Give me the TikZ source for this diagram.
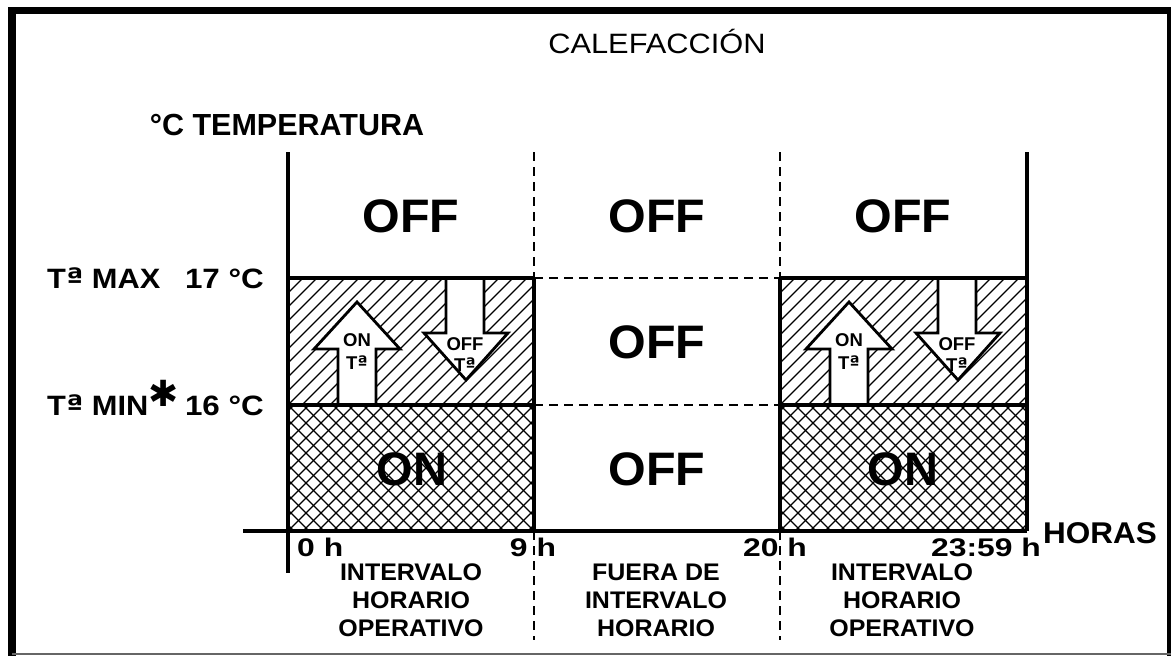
\documentclass[tikz,border=0pt]{standalone}
\usepackage{fontspec}
\setmainfont{Liberation Sans}
\newfontfamily\djv{DejaVu Sans}
\newcommand{\hs}[2]{\scalebox{#1}[1]{#2}}
\newcommand{\orda}{{\djv ª}}
\begin{document}
\begin{tikzpicture}[x=1pt,y=-1pt,
  frame/.style={line width=7.5pt},
  axis/.style={line width=3.2pt},
  dsh/.style={line width=2.2pt, dash pattern=on 9pt off 6pt},
  hat/.style={line width=1.3pt},
  arr/.style={line width=2.8pt, fill=white, line join=miter},
  ttl/.style={font=\fontsize{28}{30}\selectfont, inner sep=0, anchor=base},
  hd/.style={font=\fontsize{30.5}{32}\selectfont\bfseries, inner sep=0, anchor=base},
  lv/.style={font=\fontsize{28}{30}\selectfont\bfseries, inner sep=0},
  big/.style={font=\fontsize{47}{48}\selectfont\bfseries, inner sep=0, anchor=base},
  sm/.style={font=\fontsize{18.5}{20}\selectfont\bfseries, inner sep=0, anchor=base},
  tk/.style={font=\fontsize{25.5}{27}\selectfont\bfseries, inner sep=0, anchor=base},
  iv/.style={font=\fontsize{24}{26}\selectfont\bfseries, inner sep=0, anchor=base},
]
\useasboundingbox (0,0) rectangle (1171,656);
\fill[white] (0,0) rectangle (1171,656);

% outer frame
\draw[frame] (12,656) -- (12,10.5) -- (1171,10.5) -- (1171,656);
\draw[line width=1.5pt, black!60] (12,654) -- (1171,654);

% hatching of the two operating intervals
\foreach \ox in {0,492} {
  \begin{scope}[xshift=\ox pt]
    \begin{scope}
      \clip (288,278) rectangle (534,405);
      \foreach \i in {-10,...,18} \draw[hat] (288+\i*14,405) -- ++(127,-127);
    \end{scope}
    \begin{scope}
      \clip (288,405) rectangle (534,531);
      \foreach \i in {-9,...,18} {
        \draw[hat] (288+\i*15,531) -- ++(126,-126);
        \draw[hat] (288+\i*15,405) -- ++(126,126);
      }
    \end{scope}
    % up arrow (ON)
    \draw[arr] (338,405) -- (338,349) -- (314,349) -- (357,302) -- (400,349) -- (376,349) -- (376,405);
    % down arrow (OFF)
    \draw[arr] (446,278) -- (446,333) -- (424,333) -- (466,380) -- (508,333) -- (484,333) -- (484,278);
  \end{scope}
}

% axes and solid boundaries
\draw[axis] (288,152) -- (288,573);
\draw[axis] (243,531) -- (1027,531);
\draw[axis] (1027,152) -- (1027,531);
\draw[axis] (288,278) -- (534,278);
\draw[axis] (288,405) -- (534,405);
\draw[axis] (534,278) -- (534,531);
\draw[axis] (780,278) -- (1027,278);
\draw[axis] (780,405) -- (1027,405);
\draw[axis] (780,278) -- (780,531);

% dashed lines
\draw[dsh] (534,152) -- (534,278);
\draw[dsh] (780,152) -- (780,278);
\draw[dsh] (534,278) -- (780,278);
\draw[dsh] (534,405) -- (780,405);
\draw[dsh] (534,531) -- (534,640);
\draw[dsh] (780,531) -- (780,640);

% texts
\node[ttl] (title) at (657,53) {\hs{1.1}{CALEFACCIÓN}};
\node[hd] (ylab) at (287,135) {°C TEMPERATURA};

\node[lv, anchor=base west] (tmax) at (47,288) {\hs{1.1}{T\orda{} MAX}};
\node[lv, anchor=base east] (v17) at (264,288) {\hs{1.12}{17 °C}};
\node[lv, anchor=base west] (tmin) at (47,415) {\hs{1.1}{T\orda{} MIN}};
\node[font=\djv\fontsize{36}{36}\selectfont, inner sep=0] (star) at (164,393) {✱};
\node[lv, anchor=base east] (v16) at (264,415) {\hs{1.12}{16 °C}};

\node[big] (off1) at (411,232) {\hs{1.03}{OFF}};
\node[big] (off2) at (657,232) {\hs{1.03}{OFF}};
\node[big] (off3) at (903,232) {\hs{1.03}{OFF}};
\node[big] (off4) at (657,358) {\hs{1.03}{OFF}};
\node[big] (off5) at (657,485) {\hs{1.03}{OFF}};
\node[big] (on1) at (412,485) {ON};
\node[big] (on2) at (903,485) {ON};

\node[sm] (aon1) at (357,346) {ON};
\node[sm] (aon1t) at (357,369) {T\orda};
\node[sm] (aoff1) at (465,350) {OFF};
\node[sm] (aoff1t) at (465,371) {T\orda};
\node[sm] (aon2) at (849,346) {ON};
\node[sm] (aon2t) at (849,369) {T\orda};
\node[sm] (aoff2) at (957,350) {OFF};
\node[sm] (aoff2t) at (957,371) {T\orda};

\node[tk, anchor=base west] (t0) at (297,556) {\hs{1.25}{0 h}};
\node[tk] (t9) at (533,556) {\hs{1.25}{9 h}};
\node[tk] (t20) at (775,556) {\hs{1.25}{20 h}};
\node[tk] (t2359) at (986,556) {\hs{1.25}{23:59 h}};
\node[font=\fontsize{30}{32}\selectfont\bfseries, inner sep=0, anchor=base west] (horas) at (1043,543) {\hs{1.05}{HORAS}};

\node[iv] (l1a) at (411,580) {\hs{1.04}{INTERVALO}};
\node[iv] (l1b) at (411,608) {\hs{1.04}{HORARIO}};
\node[iv] (l1c) at (411,636) {\hs{1.04}{OPERATIVO}};
\node[iv] (l2a) at (656,580) {\hs{1.04}{FUERA DE}};
\node[iv] (l2b) at (656,608) {\hs{1.04}{INTERVALO}};
\node[iv] (l2c) at (656,636) {\hs{1.04}{HORARIO}};
\node[iv] (l3a) at (902,580) {\hs{1.04}{INTERVALO}};
\node[iv] (l3b) at (902,608) {\hs{1.04}{HORARIO}};
\node[iv] (l3c) at (902,636) {\hs{1.04}{OPERATIVO}};
\end{tikzpicture}
\end{document}
